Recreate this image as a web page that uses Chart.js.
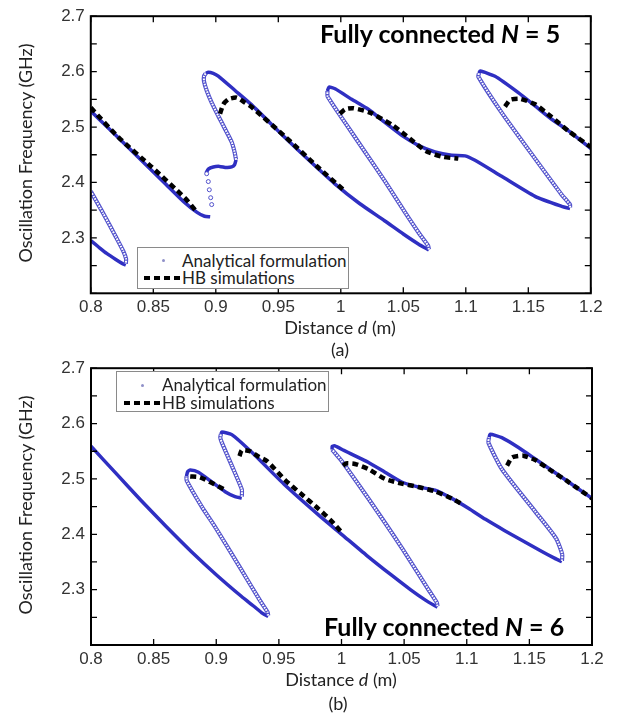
<!DOCTYPE html>
<html>
<head>
<meta charset="utf-8">
<script src="https://cdn.jsdelivr.net/npm/chart.js@4"></script>
<style>
  body { margin: 0; background: #fff; }
  #page { position: relative; width: 630px; height: 716px; overflow: hidden; font-family: Lato, "Open Sans", sans-serif; color: #222; }
  canvas { position: absolute; left: 0; }
  .lbl { position: absolute; white-space: nowrap; font-size: 18px; transform: translate(-50%, -50%); }
  .ytitle { position: absolute; white-space: nowrap; font-size: 18px; transform: translate(-50%, -50%) rotate(-90deg); }
  .note { position: absolute; white-space: nowrap; font-size: 25px; font-weight: bold; line-height: 1; color: #000; }
  .legend { position: absolute; border: 1px solid #8a8a8a; background: #fff; font-size: 17px; }
  .legend .row { position: absolute; left: 0; line-height: 1; }
  .dot { position: absolute; width: 3px; height: 3px; border-radius: 50%; background: #8f90c8; }
  .dash { position: absolute; height: 4px; width: 6px; background: #000; }
</style>
</head>
<body>
<div id="page">
  <canvas id="chartA" width="630" height="350" style="top:0"></canvas>
  <canvas id="chartB" width="630" height="364" style="top:352px"></canvas>

  <div class="ytitle" style="left:25px; top:153px">Oscillation Frequency (GHz)</div>
  <div class="lbl" style="left:340px; top:327px">Distance <i>d</i> (m)</div>
  <div class="lbl" style="left:340px; top:349px">(a)</div>
  <div class="note" style="left:320px; top:21px">Fully connected <i>N</i> = 5</div>

  <div class="ytitle" style="left:25px; top:505px">Oscillation Frequency (GHz)</div>
  <div class="lbl" style="left:341px; top:679px">Distance <i>d</i> (m)</div>
  <div class="lbl" style="left:338px; top:703px">(b)</div>
  <div class="note" style="left:324px; top:614px">Fully connected <i>N</i> = 6</div>

  <div class="legend" style="left:137px; top:247px; width:210px; height:40px">
    <span class="dot" style="left:24px; top:11px"></span>
    <div class="row" style="left:44px; top:4px">Analytical formulation</div>
    <span class="dash" style="left:6px; top:28px"></span>
    <span class="dash" style="left:16px; top:28px"></span>
    <span class="dash" style="left:26px; top:28px"></span>
    <span class="dash" style="left:36px; top:28px"></span>
    <div class="row" style="left:44px; top:21px">HB simulations</div>
  </div>
  <div class="legend" style="left:116px; top:371px; width:211px; height:39px">
    <span class="dot" style="left:24px; top:12px"></span>
    <div class="row" style="left:45px; top:4px">Analytical formulation</div>
    <span class="dash" style="left:7px; top:29px"></span>
    <span class="dash" style="left:17px; top:29px"></span>
    <span class="dash" style="left:27px; top:29px"></span>
    <span class="dash" style="left:37px; top:29px"></span>
    <div class="row" style="left:45px; top:22px">HB simulations</div>
  </div>
</div>

<script>
// ---- (a) fully connected N = 5 : [distance d (m), frequency (GHz)] ----
const a5Solid  = [[0.8,2.295],[0.806,2.284],[0.8127,2.272],[0.82,2.261],[0.825,2.254],[0.828,2.251]];
const a5Hollow = [[0.8,2.384],[0.81,2.344],[0.82,2.302],[0.826,2.276],[0.8282,2.262],[0.828,2.253]];
const b5Solid  = [[0.8,2.529],[0.82,2.485],[0.84,2.441],[0.86,2.397],[0.875,2.364],[0.885,2.346],[0.891,2.339],[0.8955,2.338]];
const b5Dots   = [[0.8927,2.4158],[0.894,2.4016],[0.8948,2.3868],[0.8959,2.3725],[0.8967,2.3601]];
const b5Wave   = [[0.8922,2.417],[0.894,2.424],[0.898,2.428],[0.903,2.429],[0.9085,2.427],[0.9127,2.428],[0.915,2.432],[0.9162,2.441]];
const b5Hollow = [[0.9162,2.441],[0.915,2.455],[0.9127,2.473],[0.9073,2.497],[0.902,2.52],[0.8967,2.544],[0.8927,2.566],[0.8906,2.582],[0.8906,2.592],[0.892,2.597]];
const c5Solid  = [[0.892,2.597],[0.894,2.599],[0.898,2.597],[0.902,2.592],[0.9154,2.566],[0.9287,2.54],[0.9553,2.481],[0.975,2.439],[0.995,2.398],[1.015,2.362],[1.035,2.331],[1.05,2.307],[1.062,2.289],[1.0705,2.278]];
const c5Hollow = [[1.0705,2.279],[1.0698,2.286],[1.063,2.307],[1.0514,2.346],[1.0354,2.402],[1.0194,2.455],[1.0034,2.508],[0.9895,2.555],[0.9893,2.565]];
const d5Solid  = [[0.9893,2.565],[0.9905,2.572],[0.9954,2.569],[1.0087,2.55],[1.022,2.532],[1.0354,2.508],[1.0487,2.485],[1.062,2.467],[1.0754,2.455],[1.0887,2.449],[1.0994,2.448],[1.1074,2.44],[1.1287,2.411],[1.1554,2.375],[1.1767,2.357],[1.1834,2.353]];
const d5Hollow = [[1.1834,2.355],[1.1834,2.36],[1.1767,2.378],[1.1554,2.443],[1.1287,2.526],[1.11,2.591],[1.1105,2.597]];
const e5Solid  = [[1.1105,2.597],[1.1114,2.601],[1.1234,2.5915],[1.142,2.562],[1.1554,2.538],[1.1687,2.514],[1.182,2.4936],[1.2,2.461]];
const hb5 = [
  [[0.8,2.535],[0.822,2.4817],[0.8487,2.428],[0.8754,2.3717],[0.8847,2.347]],
  [[0.9034,2.524],[0.906,2.541],[0.91,2.55],[0.9167,2.553],[0.9234,2.544],[0.9287,2.536],[0.9553,2.483],[0.982,2.427],[1.002,2.387]],
  [[0.9993,2.524],[1.0033,2.532],[1.01,2.534],[1.0234,2.526],[1.042,2.5025],[1.0554,2.4787],[1.0687,2.456],[1.082,2.446],[1.094,2.443]],
  [[1.1314,2.537],[1.1354,2.549],[1.1434,2.551],[1.1554,2.541],[1.1687,2.518],[1.182,2.493],[1.2,2.464]]
];

// ---- (b) fully connected N = 6 ----
const p6Solid  = [[0.8,2.559],[0.82,2.51],[0.84,2.461],[0.86,2.414],[0.88,2.369],[0.9,2.327],[0.92,2.288],[0.93,2.27],[0.937,2.257],[0.9415,2.2515]];
const p6Hollow = [[0.9415,2.253],[0.941,2.259],[0.935,2.28],[0.92,2.336],[0.9,2.41],[0.8884,2.45],[0.8764,2.497],[0.8762,2.505]];
const q6Solid  = [[0.8762,2.505],[0.8772,2.513],[0.8792,2.516],[0.8858,2.512],[0.8964,2.4945],[0.9071,2.477],[0.915,2.468],[0.9204,2.4655]];
const q6Hollow = [[0.9204,2.468],[0.9204,2.481],[0.9124,2.524],[0.9044,2.566],[0.9032,2.575],[0.9038,2.581]];
const r6Solid  = [[0.9038,2.581],[0.9044,2.5846],[0.9124,2.58],[0.9284,2.548],[0.955,2.4885],[0.9816,2.435],[1.0003,2.3995],[1.02,2.362],[1.04,2.326],[1.055,2.3],[1.067,2.281],[1.0766,2.268]];
const r6Hollow = [[1.0766,2.27],[1.0762,2.276],[1.07,2.298],[1.048,2.376],[1.0213,2.465],[1.0,2.533],[0.9947,2.547],[0.9925,2.553]];
const s6Solid  = [[0.9925,2.553],[0.9926,2.559],[0.9947,2.5597],[1.0019,2.5516],[1.008,2.5448],[1.0213,2.53],[1.0347,2.512],[1.048,2.4944],[1.0613,2.4855],[1.0747,2.4796],[1.088,2.4648],[1.1013,2.447],[1.115,2.427],[1.13,2.407],[1.145,2.388],[1.16,2.369],[1.17,2.357],[1.176,2.3505]];
const s6Hollow = [[1.176,2.352],[1.1762,2.364],[1.1712,2.393],[1.1547,2.441],[1.128,2.518],[1.1173,2.5656],[1.1178,2.575]];
const t6Solid  = [[1.1178,2.575],[1.1187,2.5806],[1.128,2.5745],[1.1413,2.5567],[1.1547,2.536],[1.168,2.5152],[1.1813,2.4944],[1.2,2.4648]];
const hb6 = [
  [[0.8792,2.5045],[0.887,2.503],[0.897,2.492],[0.906,2.4815]],
  [[0.9185,2.541],[0.9205,2.552],[0.927,2.55],[0.934,2.54],[0.9406,2.532],[0.955,2.498],[0.9672,2.474],[0.9816,2.446],[0.992,2.424],[1.0006,2.402]],
  [[1.0013,2.524],[1.0035,2.528],[1.0107,2.527],[1.0213,2.518],[1.0347,2.5],[1.048,2.4915],[1.0613,2.4855],[1.0747,2.4775],[1.088,2.4648],[1.0973,2.453]],
  [[1.1322,2.524],[1.1362,2.539],[1.145,2.542],[1.1547,2.534],[1.168,2.514],[1.1813,2.4944],[1.2,2.4648]]
];

const xTicks = [0.8, 1.2, 0.05];
const yTicks = [2.2, 2.7, 0.05];

const BLUE = '#2f2fc2';
const BLUE_LIGHT = '#5252cc';

const pts = arr => arr.map(p => ({x: p[0], y: p[1]}));

function solid(arr) {
  return {data: pts(arr), showLine: true, borderColor: BLUE, borderWidth: 3.5, pointRadius: 0, tension: 0.2, order: 3};
}
function hollow(arr) {
  return [
    {data: pts(arr), showLine: true, borderColor: BLUE_LIGHT, borderWidth: 4.2, pointRadius: 0, tension: 0.2, order: 2},
    {data: pts(arr), showLine: true, borderColor: '#fff', borderWidth: 2, borderDash: [1.6, 1.1], pointRadius: 0, tension: 0.2, order: 1}
  ];
}
function dots(arr) {
  return {data: pts(arr), showLine: false, pointRadius: 2, pointBorderWidth: 1, pointBorderColor: BLUE_LIGHT, pointBackgroundColor: '#fff', order: 2};
}
function hb(arr) {
  return {data: pts(arr), showLine: true, borderColor: '#000', borderWidth: 4.5, borderDash: [6, 4], pointRadius: 0, tension: 0.2, order: 0};
}

// box round the plot with inward tick marks on all four sides
const frame = {
  id: 'frame',
  afterDatasetsDraw(chart) {
    const {ctx, chartArea: a, scales: {x, y}} = chart;
    ctx.save();
    ctx.strokeStyle = '#000';
    ctx.lineWidth = 1.3;
    ctx.beginPath();
    x.ticks.forEach(t => {
      const px = x.getPixelForValue(t.value);
      ctx.moveTo(px, a.bottom); ctx.lineTo(px, a.bottom - 6);
      ctx.moveTo(px, a.top); ctx.lineTo(px, a.top + 6);
    });
    y.ticks.forEach(t => {
      const py = y.getPixelForValue(t.value);
      ctx.moveTo(a.left, py); ctx.lineTo(a.left + 6, py);
      ctx.moveTo(a.right, py); ctx.lineTo(a.right - 6, py);
    });
    ctx.stroke();
    ctx.lineWidth = 2;
    ctx.strokeRect(a.left, a.top, a.right - a.left, a.bottom - a.top);
    ctx.restore();
  }
};

function makeChart(id, datasets, yWidth, xHeight, padRight) {
  new Chart(document.getElementById(id), {
    type: 'scatter',
    data: {datasets: datasets},
    options: {
      responsive: false,
      animation: false,
      layout: {padding: {top: 12, right: padRight, left: 0, bottom: 0}},
      plugins: {legend: {display: false}, tooltip: {enabled: false}},
      scales: {
        x: {
          type: 'linear', min: xTicks[0], max: xTicks[1],
          grid: {display: false, drawTicks: false}, border: {display: false},
          ticks: {stepSize: xTicks[2], autoSkip: false, maxRotation: 0, padding: 4,
                  color: '#333', font: {family: 'Liberation Sans', size: 17},
                  callback: v => String(Math.round(v * 100) / 100)},
          afterFit: s => { s.height = xHeight; }
        },
        y: {
          type: 'linear', min: yTicks[0], max: yTicks[1],
          grid: {display: false, drawTicks: false}, border: {display: false},
          ticks: {stepSize: yTicks[2], padding: 6,
                  color: '#333', font: {family: 'Liberation Sans', size: 17},
                  callback: v => { const r = Math.round(v * 100); return (r % 10 === 0 && r > 220) ? (r / 100).toFixed(1) : ''; }},
          afterFit: s => { s.width = yWidth; }
        }
      }
    },
    plugins: [frame]
  });
}

const setA = [
  solid(a5Solid), ...hollow(a5Hollow),
  solid(b5Solid), dots(b5Dots), solid(b5Wave), ...hollow(b5Hollow),
  solid(c5Solid), ...hollow(c5Hollow),
  solid(d5Solid), ...hollow(d5Hollow),
  solid(e5Solid),
  ...hb5.map(hb)
];
const setB = [
  solid(p6Solid), ...hollow(p6Hollow),
  solid(q6Solid), ...hollow(q6Hollow),
  solid(r6Solid), ...hollow(r6Hollow),
  solid(s6Solid), ...hollow(s6Hollow),
  solid(t6Solid),
  ...hb6.map(hb)
];

makeChart('chartA', setA, 90.8, 56.7, 39.2);
makeChart('chartB', setB, 91, 71, 38);
</script>
</body>
</html>
